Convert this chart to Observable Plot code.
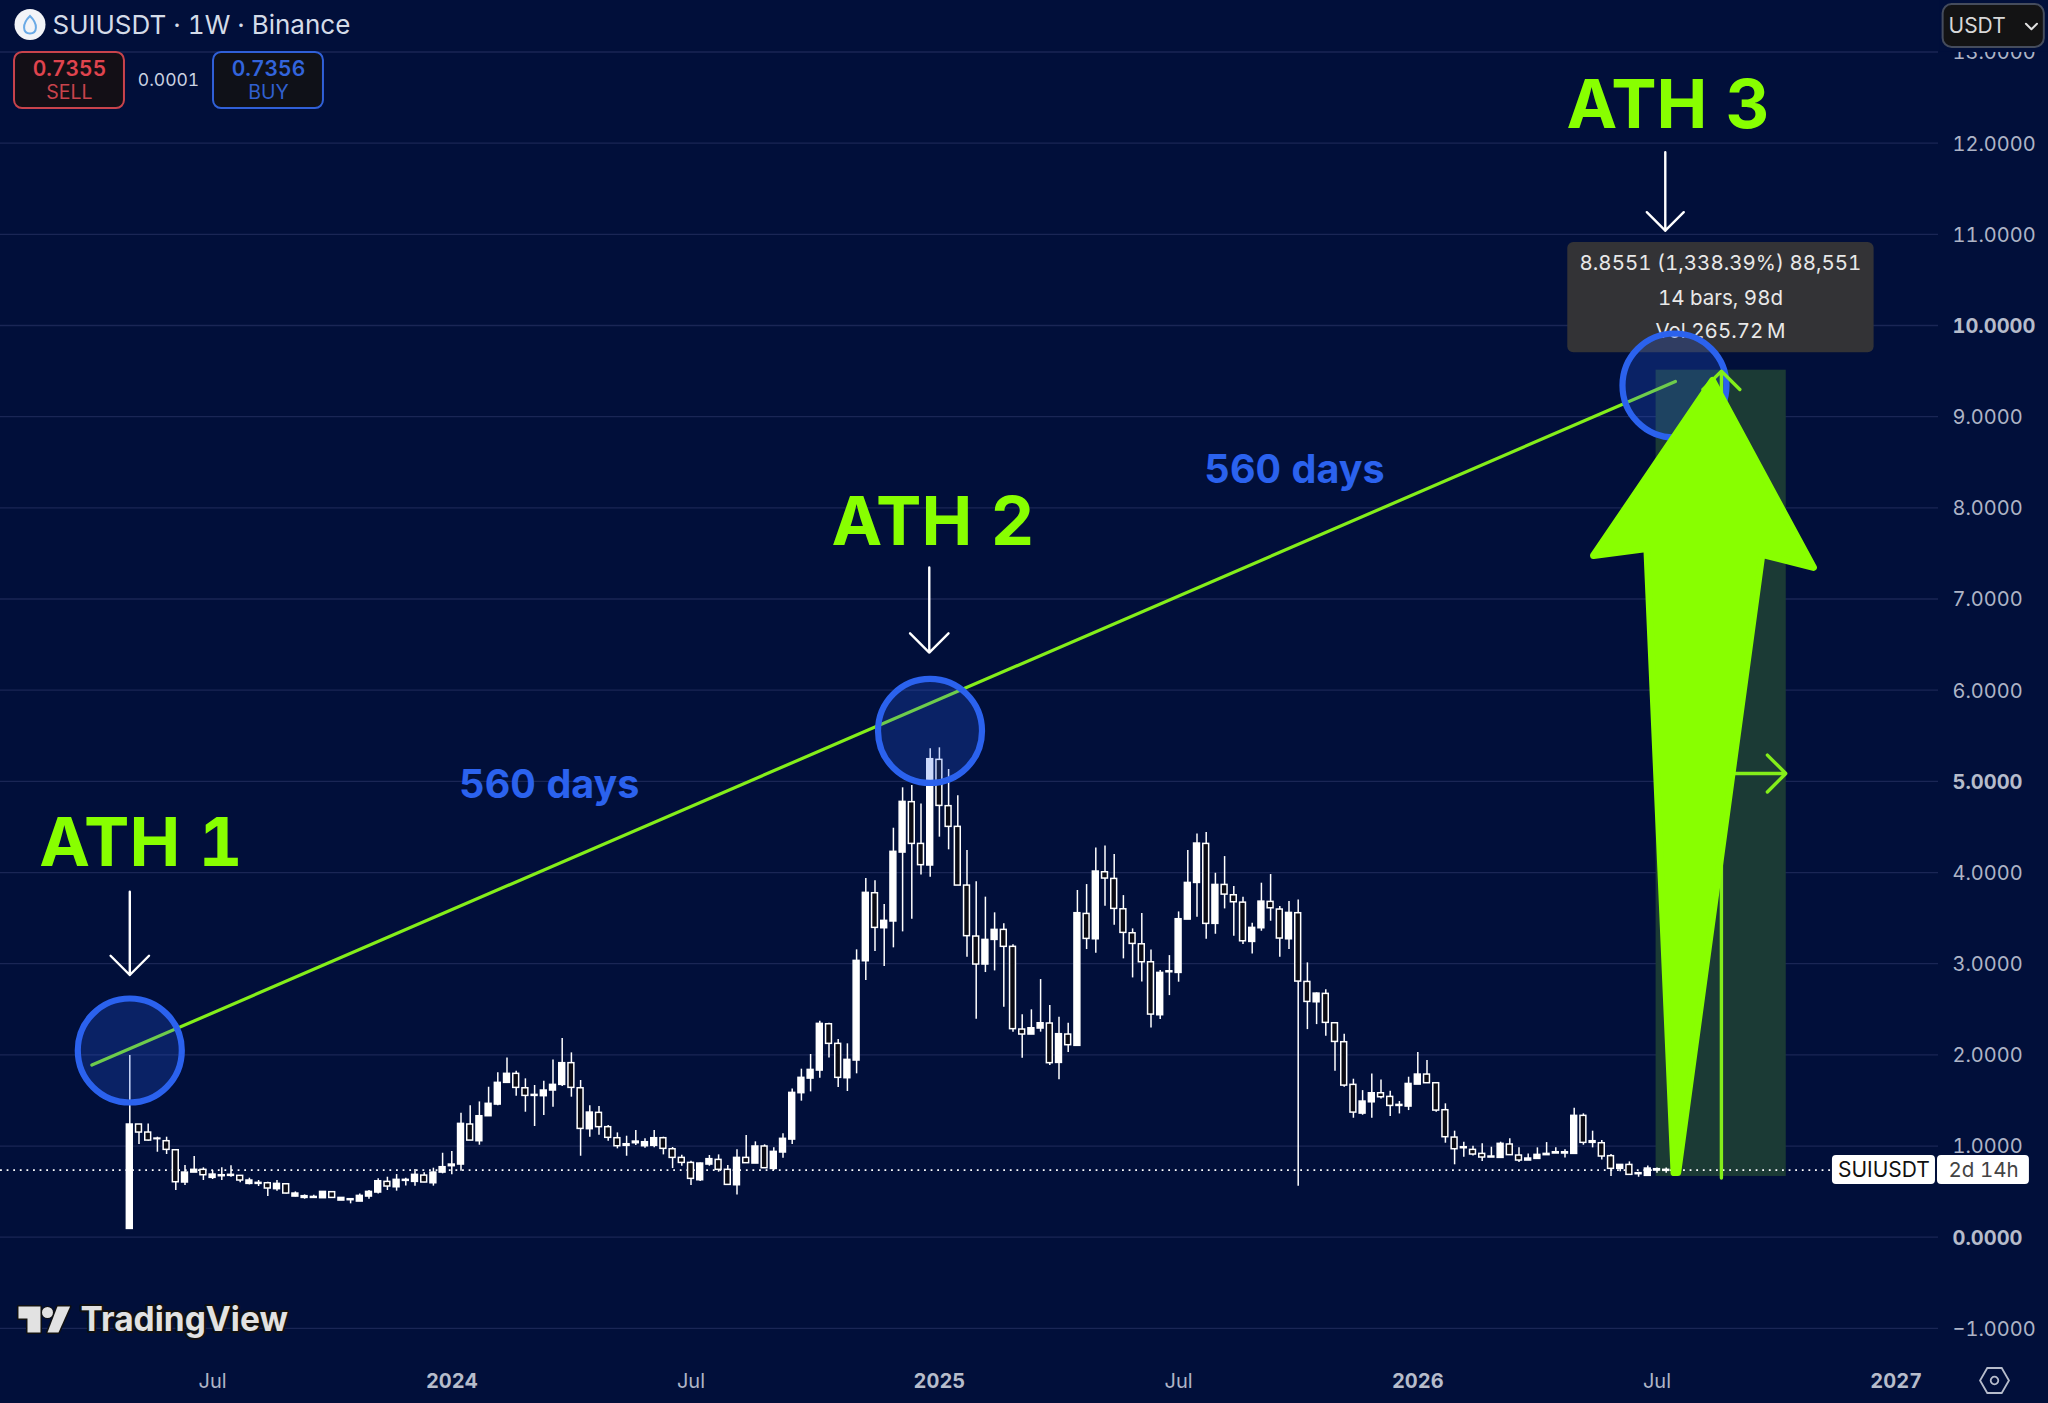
<!DOCTYPE html>
<html><head><meta charset="utf-8">
<style>html,body{margin:0;padding:0;background:#010f3a}svg{display:block}</style>
<script src="https://cdn.jsdelivr.net/npm/d3@7"></script>
<script src="https://cdn.jsdelivr.net/npm/@observablehq/plot@0.6"></script>
</head><body><div id="chart"></div>
<script>
const highs=[1.993,1.236,1.243,1.097,1.097,.962,.786,.885,.761,.731,
.761,.783,.673,.647,.622,.603,.622,.585,.497,.464,
.461,.50,.494,.431,.417,.475,.512,.640,.658,.687,
.647,.742,.706,.757,.921,.940,1.360,1.441,1.484,1.645,
1.803,1.967,1.821,1.737,1.664,1.711,1.945,2.179,2.022,1.719,
1.441,1.433,1.225,1.144,1.108,1.170,1.079,1.170,1.097,.984,
.899,.834,.815,.896,.903,.786,.958,1.115,1.046,1.013,
.980,1.134,1.627,1.843,2.004,2.369,2.347,2.168,2.121,3.152,
3.934,3.909,3.649,4.486,4.929,4.954,4.753,5.357,5.368,5.130,
4.841,4.241,3.898,3.730,3.558,3.437,3.207,2.439,2.494,2.826,
2.541,2.413,2.347,3.803,3.868,4.270,4.292,4.197,3.747,3.382,
3.550,3.151,2.925,3.089,3.568,4.241,4.424,4.438,3.992,4.175,
3.846,3.729,3.444,3.883,3.978,3.627,3.682,3.700,3.009,2.680,
2.713,2.354,2.226,1.733,1.608,1.791,1.725,1.601,1.488,1.755,
2.025,1.937,1.693,1.463,1.163,1.042,.998,1.024,.987,1.042,
1.079,.980,.914,.980,1.038,.980,.958,1.415,1.353,1.163,
1.060,.907,.793,.826,.713,.782,.760,.760];
const bodyTops=[1.236,1.236,1.148,1.082,1.053,.954,.709,.739,.739,.687,
.680,.684,.673,.622,.596,.592,.585,.581,.479,.450,
.442,.497,.494,.431,.417,.453,.497,.614,.607,.629,
.629,.684,.676,.709,.768,.797,1.243,1.236,1.327,1.463,
1.693,1.792,1.792,1.634,1.561,1.609,1.671,1.909,1.909,1.634,
1.367,1.364,1.207,1.086,1.020,1.049,1.042,1.086,1.086,.965,
.870,.815,.808,.856,.848,.739,.870,.870,.995,.995,
.936,1.079,1.583,1.748,1.835,2.340,2.336,2.121,1.945,3.031,
3.777,3.773,3.470,4.227,4.775,4.772,4.314,5.243,5.236,4.728,
4.501,3.857,3.298,3.261,3.371,3.371,3.185,2.278,2.292,2.347,
2.344,2.227,2.223,3.554,3.546,4.011,4.003,3.930,3.597,3.334,
3.213,3.016,2.899,2.917,3.488,3.886,4.318,4.314,3.864,3.864,
3.751,3.670,3.393,3.681,3.678,3.594,3.557,3.554,2.800,2.672,
2.669,2.347,2.139,1.671,1.488,1.579,1.579,1.539,1.451,1.681,
1.784,1.784,1.689,1.393,1.093,.987,.958,.914,.885,1.024,
1.017,.896,.863,.903,.914,.932,.932,1.331,1.331,1.053,
1.031,.889,.793,.793,.702,.753,.746,.739];
const bodyBottoms=[.091,1.148,1.060,1.075,.958,.603,.600,.709,.680,.651,
.669,.673,.622,.585,.585,.534,.527,.479,.446,.431,
.431,.428,.431,.402,.406,.391,.446,.490,.556,.548,
.618,.607,.600,.592,.709,.779,.797,1.060,1.053,1.327,
1.455,1.693,1.638,1.550,1.550,1.547,1.609,1.671,1.638,1.188,
1.185,1.207,1.090,.998,1.002,1.031,.998,1.002,.969,.870,
.815,.640,.625,.797,.739,.574,.570,.812,.808,.757,
.749,.929,1.071,1.580,1.740,1.828,2.121,1.748,1.744,1.938,
3.027,3.393,3.389,3.463,4.219,4.314,4.081,4.077,4.731,4.501,
3.857,3.302,2.991,2.991,3.261,3.185,2.282,2.223,2.223,2.289,
1.909,1.912,2.106,2.099,3.272,3.268,3.934,3.601,3.338,3.217,
3.016,2.442,2.435,2.906,2.899,3.484,3.886,3.437,3.437,3.758,
3.674,3.246,3.239,3.389,3.608,3.276,3.268,2.804,2.581,2.577,
2.351,2.142,1.663,1.367,1.356,1.480,1.535,1.440,1.440,1.433,
1.674,1.689,1.389,1.097,.965,.976,.907,.874,.874,.870,
.900,.841,.841,.859,.900,.918,.918,.914,1.035,1.035,
.885,.750,.750,.684,.691,.673,.731,.728];
const lows=[.091,1.016,1.053,.932,.907,.512,.567,.709,.622,.633,
.622,.658,.596,.574,.556,.446,.505,.475,.442,.417,
.431,.425,.431,.402,.366,.391,.417,.475,.512,.505,
.563,.560,.596,.560,.695,.684,.724,1.060,1.009,1.327,
1.441,1.693,1.547,1.371,1.214,1.335,1.426,1.653,1.536,.888,
1.097,1.119,1.053,.969,.888,1.005,.976,.980,.903,.753,
.779,.567,.611,.779,.713,.574,.464,.812,.808,.757,
.731,.867,1.017,1.492,1.594,1.744,1.967,1.642,1.598,1.792,
2.815,3.133,2.969,3.174,3.349,3.488,3.974,3.949,4.388,4.249,
3.857,3.071,2.391,2.903,2.921,2.523,2.249,1.964,2.223,2.249,
1.883,1.726,2.026,2.099,3.155,3.115,3.630,3.422,3.053,2.844,
2.800,2.296,2.387,2.650,2.797,3.484,3.510,3.268,3.323,3.601,
3.301,3.210,3.107,3.356,3.466,3.071,3.155,.559,2.277,2.332,
2.204,1.820,1.645,1.305,1.338,1.305,1.517,1.323,1.352,1.389,
1.674,1.689,1.371,1.031,.794,.878,.892,.830,.874,.870,
.896,.819,.841,.859,.900,.918,.870,.914,1.009,.980,
.848,.666,.717,.684,.658,.673,.702,.702];
const rising=[1,0,0,1,0,0,1,1,0,1,
1,1,0,1,1,0,1,0,1,1,
1,1,0,1,1,1,1,1,0,1,
1,1,0,1,1,1,1,0,1,1,
1,1,0,0,1,1,1,1,0,0,
1,0,0,0,1,1,1,1,0,0,
0,0,1,1,0,0,1,0,1,0,
1,1,1,1,1,1,0,0,1,1,
1,0,1,1,1,0,0,1,0,0,
0,0,0,1,1,0,0,0,1,1,
0,1,0,1,0,1,0,0,0,0,
0,0,1,1,1,1,1,0,1,0,
0,0,1,1,0,0,1,0,0,1,
0,0,0,0,1,1,0,0,1,1,
1,0,0,0,0,1,0,0,1,1,
0,0,1,1,1,1,1,1,0,1,
0,0,1,0,1,1,1,1];

const priceTicks=[-1,0,1,2,3,4,5,6,7,8,9,10,11,12,13];
const boldPrices=[0,5,10];
const monthBars=[9,61,114,166];
const yearBars=[35,88,140,192];
const yearNames=["2024","2025","2026","2027"];

const trend=[{bar:-4.12,price:1.888},{bar:168,price:9.386}];
const ringBars=[0,86.98,167.9];
const ringPrices=[2.048,5.553,9.342];
const athLabels=[{t:"ATH 1",bar:1.2,price:4.31},{t:"ATH 2",bar:87.3,price:7.835},{t:"ATH 3",bar:167.2,price:12.405}];
const dayLabels=[{t:"560 days",bar:45.6,price:4.955},{t:"560 days",bar:126.6,price:8.41}];
const downArrows=[{bar:0,from:3.79,to:2.876},{bar:86.9,from:7.345,to:6.413},{bar:166.9,from:11.9,to:11.04}];
const measure={x1:165.9,x2:180.05,y1:.666,y2:9.51};
const bigArrow=[
 {bar:172.03,price:9.397},{bar:183.0,price:7.346},{bar:177.4,price:7.49},
 {bar:168.25,price:.71},{bar:167.85,price:.71},{bar:164.9,price:7.554},{bar:159.1,price:7.477}];
const tipLines=[
 {t:"8.8551 (1,338.39%) 88,551",price:10.68},
 {t:"14 bars, 98d",price:10.30},
 {t:"Vol 265.72\u2009M",price:9.935}];
const logoShapes=[
 {s:"T",bar:-12.1,price:-.76},{s:"T",bar:-9.71,price:-.76},{s:"T",bar:-9.71,price:-1.045},{s:"T",bar:-11.12,price:-1.045},{s:"T",bar:-11.12,price:-.892},{s:"T",bar:-12.1,price:-.892},
 {s:"/",bar:-7.86,price:-.76},{s:"/",bar:-6.49,price:-.76},{s:"/",bar:-7.75,price:-1.045},{s:"/",bar:-8.95,price:-1.045}];

const bg="#010f3a", green="#88ff00", line="#84ee1a", blue="#2b62ee";
const candles=highs.map((h,i)=>({bar:i,high:h,low:lows[i],top:bodyTops[i],bottom:bodyBottoms[i],up:rising[i]===1}));
const ui=(text,dx,dy,o)=>Plot.text([text],{frameAnchor:"top-left",dx,dy,textAnchor:"middle",lineAnchor:"middle",...o});
const droplet={draw(c,size){const r=Math.sqrt(size/Math.PI);c.moveTo(0,-r);c.bezierCurveTo(r*.95,-r*.1,r*.8,r*.95,0,r*.95);c.bezierCurveTo(-r*.8,r*.95,-r*.95,-r*.1,0,-r);c.closePath();}};

const chart=Plot.plot({
  width:2048,height:1403,
  marginLeft:0,marginTop:0,marginRight:110,marginBottom:44,
  style:{background:bg,fontFamily:"Inter, sans-serif",overflow:"visible",fontFeatureSettings:'"tnum"'},
  x:{type:"linear",domain:[-14.054,208.554],range:[0,2048],axis:null},
  y:{type:"linear",domain:[-1.824,13.565],range:[1403,0],axis:null},
  marks:[
    Plot.gridY(priceTicks,{stroke:"#1a2655",strokeOpacity:1,strokeWidth:1.3}),
    Plot.axisY({anchor:"right",ticks:priceTicks.filter(d=>!boldPrices.includes(d)),tickSize:0,tickPadding:14,dy:1,label:null,fontSize:20,color:"#aeb4c6",
      tickFormat:d=>(d<0?"\u2212":"")+Math.abs(d).toFixed(4)}),
    Plot.axisY({anchor:"right",ticks:boldPrices,tickSize:0,tickPadding:14,dy:1,label:null,fontSize:20,fontWeight:700,color:"#b6bccb",tickFormat:d=>d.toFixed(4)}),
    Plot.axisX({anchor:"bottom",ticks:monthBars,tickSize:0,tickPadding:14,label:null,fontSize:20,color:"#aeb4c6",tickFormat:()=>"Jul"}),
    Plot.axisX({anchor:"bottom",ticks:yearBars,tickSize:0,tickPadding:14,label:null,fontSize:20,fontWeight:700,color:"#b6bccb",tickFormat:d=>yearNames[yearBars.indexOf(d)]}),

    Plot.rect([measure],{x1:"x1",x2:"x2",y1:"y1",y2:"y2",fill:"#1b3a35"}),
    Plot.ruleY([{p:.7355,a:-14.05,b:185}],{y:"p",x1:"a",x2:"b",stroke:"#fff",strokeWidth:1.6,strokeDasharray:"1.8 4.8"}),

    Plot.ruleX(candles,{x:"bar",y1:"low",y2:"high",stroke:"#fff",strokeWidth:1.5}),
    Plot.rect(candles,{x1:d=>d.bar-.32,x2:d=>d.bar+.32,y1:"bottom",y2:"top",fill:d=>d.up?"#fff":"#0b0b14",stroke:"#fff",strokeWidth:1.5}),

    Plot.line(trend,{x:"bar",y:"price",stroke:line,strokeWidth:3.2}),

    Plot.rect([{a:156.3,b:189.6,c:9.70,d:10.91}],{x1:"a",x2:"b",y1:"c",y2:"d",fill:"#333336",rx:6}),
    Plot.text(tipLines,{x:172.9,y:"price",text:"t",fill:"#e8e8e8",fontSize:20.5}),

    Plot.dot(ringBars.map((b,i)=>({b,p:ringPrices[i]})),{x:"b",y:"p",r:52,fill:"#2b62ee",fillOpacity:.24,stroke:blue,strokeWidth:6.2}),

    Plot.arrow([{bar:173,a:.65,b:9.5}],{x1:"bar",x2:"bar",y1:"a",y2:"b",stroke:line,strokeWidth:3.4,strokeLinecap:"round",headLength:11.5,headAngle:90}),
    Plot.arrow([{a:166,b:180,p:5.086}],{x1:"a",x2:"b",y1:"p",y2:"p",stroke:line,strokeWidth:3.4,strokeLinecap:"round",headLength:11.5,headAngle:90}),
    Plot.line(bigArrow,{x:"bar",y:"price",curve:"linear-closed",fill:green,stroke:green,strokeWidth:7,strokeLinejoin:"round"}),

    Plot.arrow(downArrows,{x1:"bar",x2:"bar",y1:"from",y2:"to",stroke:"#fff",strokeWidth:2.4,headLength:17,headAngle:90}),
    Plot.text(athLabels,{x:"bar",y:"price",text:"t",fill:green,fontSize:68,fontWeight:700}),
    Plot.text(dayLabels,{x:"bar",y:"price",text:"t",fill:blue,fontSize:39.5,fontWeight:700}),

    Plot.rect([{a:185.07,b:196.27,c:.578,d:.896}],{x1:"a",x2:"b",y1:"c",y2:"d",fill:"#fff",rx:4}),
    Plot.rect([{a:196.49,b:206.48,c:.578,d:.896}],{x1:"a",x2:"b",y1:"c",y2:"d",fill:"#fff",rx:4}),
    Plot.text([{t:"SUIUSDT",bar:190.67,p:.735}],{x:"bar",y:"p",text:"t",fill:"#111",fontSize:21}),
    Plot.text([{t:"2d 14h",bar:201.5,p:.735}],{x:"bar",y:"p",text:"t",fill:"#444",fontSize:20.5}),

    // header cover over the clipped top tick label, and the currency button
    Plot.rect([{a:196.8,b:208.6,c:12.995,d:13.6}],{x1:"a",x2:"b",y1:"c",y2:"d",fill:bg}),
    Plot.rect([{a:197.1,b:208.1,c:13.05,d:13.52}],{x1:"a",x2:"b",y1:"c",y2:"d",fill:"#131314",stroke:"#454c5c",strokeWidth:2,rx:9}),
    ui("USDT",1948,26,{textAnchor:"start",fill:"#d8d8d8",fontSize:21}),
    Plot.line([{b:206.1,p:13.31},{b:206.7,p:13.25},{b:207.3,p:13.31}],{x:"b",y:"p",stroke:"#e0e0e0",strokeWidth:2}),

    Plot.dot([0],{frameAnchor:"top-left",dx:29.5,dy:24,r:15.5,fill:"#f2f4f8"}),
    Plot.dot([0],{frameAnchor:"top-left",dx:29.5,dy:24.5,r:9,symbol:droplet,fill:"none",stroke:"#6aaae6",strokeWidth:2}),
    ui("SUIUSDT \u00b7 1W \u00b7 Binance",52,25,{textAnchor:"start",fill:"#d4dbe8",fontSize:26}),

    Plot.rect([{a:-12.53,b:-.58,c:12.38,d:12.995}],{x1:"a",x2:"b",y1:"c",y2:"d",fill:"#130f16",stroke:"#c8434c",strokeWidth:2,rx:8}),
    Plot.rect([{a:9.1,b:21.05,c:12.38,d:12.995}],{x1:"a",x2:"b",y1:"c",y2:"d",fill:"#0f1118",stroke:"#3060d8",strokeWidth:2,rx:8}),
    ui("0.7355",69,69,{fill:"#e0444e",fontSize:21,fontWeight:600}),
    ui("SELL",69,92,{fill:"#c8434c",fontSize:19.5}),
    ui("0.0001",168,80,{fill:"#ccd3e2",fontSize:17.5}),
    ui("0.7356",268,69,{fill:"#3264dc",fontSize:21,fontWeight:600}),
    ui("BUY",268,92,{fill:"#3060d0",fontSize:19.5}),

    Plot.line(logoShapes,{x:"bar",y:"price",z:"s",curve:"linear-closed",fill:"#e2e2e2",stroke:"#111",strokeWidth:3,paintOrder:"stroke"}),
    Plot.dot([0],{frameAnchor:"top-left",dx:47,dy:1312,r:5.5,fill:"#e2e2e2",stroke:"#111",strokeWidth:2,paintOrder:"stroke"}),
    ui("TradingView",80,1320,{textAnchor:"start",fill:"#e2e2e2",fontSize:33.5,fontWeight:700,stroke:"#111",strokeWidth:4,paintOrder:"stroke"}),

    Plot.dot([0],{frameAnchor:"top-left",dx:1994,dy:1380,r:12.5,symbol:"hexagon",rotate:90,fill:"none",stroke:"#b6bccb",strokeWidth:1.8}),
    Plot.dot([0],{frameAnchor:"top-left",dx:1994,dy:1380,r:3.8,fill:"none",stroke:"#b6bccb",strokeWidth:1.8})
  ]
});
document.getElementById("chart").append(chart);
</script></body></html>
